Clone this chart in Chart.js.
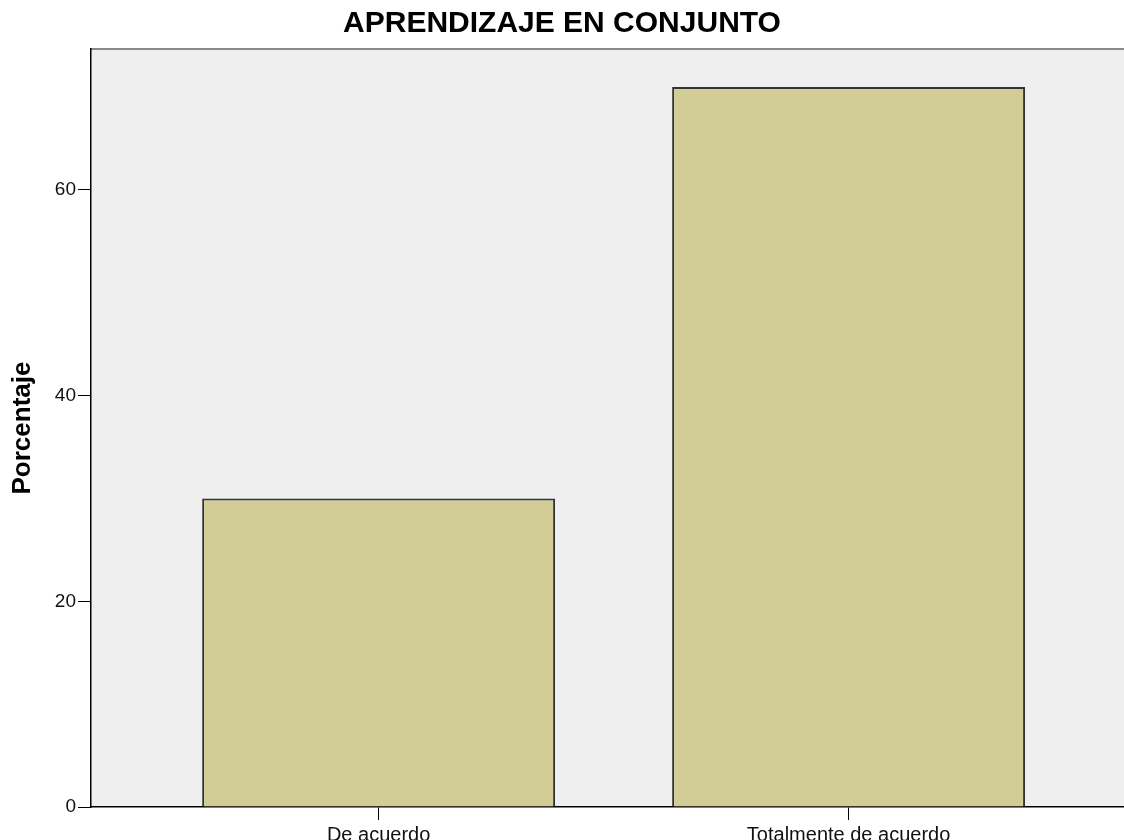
<!DOCTYPE html>
<html>
<head>
<meta charset="utf-8">
<title>Aprendizaje en conjunto</title>
<script src="https://cdn.jsdelivr.net/npm/chart.js@4.4.0/dist/chart.umd.min.js"></script>
<style>
  html, body { margin: 0; padding: 0; background: #fff; overflow: hidden; }
  #wrap { width: 1124px; height: 840px; position: relative; }
</style>
</head>
<body>
<div id="wrap"><canvas id="barChart"></canvas></div>
<script>
// data
var categories = ["De acuerdo", "Totalmente de acuerdo"];
var catPos = [1, 2];
var percent = [30, 70];
var yTicks = [0, 20, 40, 60];

var font = "'Liberation Sans', Arial, sans-serif";

// grey plot background with a grey top frame line
var plotBg = {
  id: 'plotBg',
  beforeDraw: function(chart) {
    var a = chart.chartArea, c = chart.ctx;
    c.save();
    c.fillStyle = '#efefef';
    c.fillRect(a.left, a.top, a.right - a.left, a.bottom - a.top);
    c.strokeStyle = '#8a8a8a';
    c.lineWidth = 2;
    c.beginPath();
    c.moveTo(a.left, a.top);
    c.lineTo(a.right, a.top);
    c.stroke();
    c.restore();
  }
};

var points = catPos.map(function(x, i) { return { x: x, y: percent[i] }; });

var ctx = document.getElementById('barChart');

new Chart(ctx, {
  type: 'bar',
  data: {
    datasets: [{
      label: 'Porcentaje',
      data: points,
      backgroundColor: '#d2cd96',
      borderColor: '#333333',
      borderWidth: 2,
      barPercentage: 0.751,
      categoryPercentage: 1
    }]
  },
  options: {
    responsive: true,
    maintainAspectRatio: false,
    animation: false,
    layout: { padding: { left: 0, right: 0, top: 0, bottom: 0 } },
    plugins: {
      legend: { display: false },
      tooltip: { enabled: false },
      title: {
        display: true,
        text: 'APRENDIZAJE EN CONJUNTO',
        color: '#000',
        font: { family: font, size: 30, weight: 'bold' },
        padding: { top: 6, bottom: 7 }
      }
    },
    scales: {
      x: {
        type: 'linear',
        offset: false,
        min: 0.388,
        max: 2.586,
        afterBuildTicks: function(axis) {
          axis.ticks = catPos.map(function(v) { return { value: v }; });
        },
        afterFit: function(axis) { axis.height = 33; },
        ticks: {
          color: '#111',
          padding: 3,
          font: { family: font, size: 20 },
          maxRotation: 0,
          autoSkip: false,
          callback: function(v) {
            var i = catPos.indexOf(v);
            return i >= 0 ? categories[i] : '';
          }
        },
        grid: {
          drawOnChartArea: false,
          offset: false,
          tickLength: 13,
          tickColor: '#000'
        },
        border: { color: '#000', width: 1.5 }
      },
      y: {
        min: 0,
        max: 73.7,
        afterBuildTicks: function(axis) {
          axis.ticks = yTicks.map(function(v) { return { value: v }; });
        },
        afterFit: function(axis) { axis.width = 91; },
        ticks: {
          color: '#111',
          padding: 2,
          font: { family: font, size: 19 }
        },
        grid: {
          drawOnChartArea: false,
          tickLength: 13,
          tickColor: '#000'
        },
        border: { color: '#000', width: 1.5 },
        title: {
          display: true,
          text: 'Porcentaje',
          color: '#000',
          font: { family: font, size: 26, weight: 'bold' },
          padding: { top: 7, bottom: 0 }
        }
      }
    }
  },
  plugins: [plotBg]
});
</script>
</body>
</html>
